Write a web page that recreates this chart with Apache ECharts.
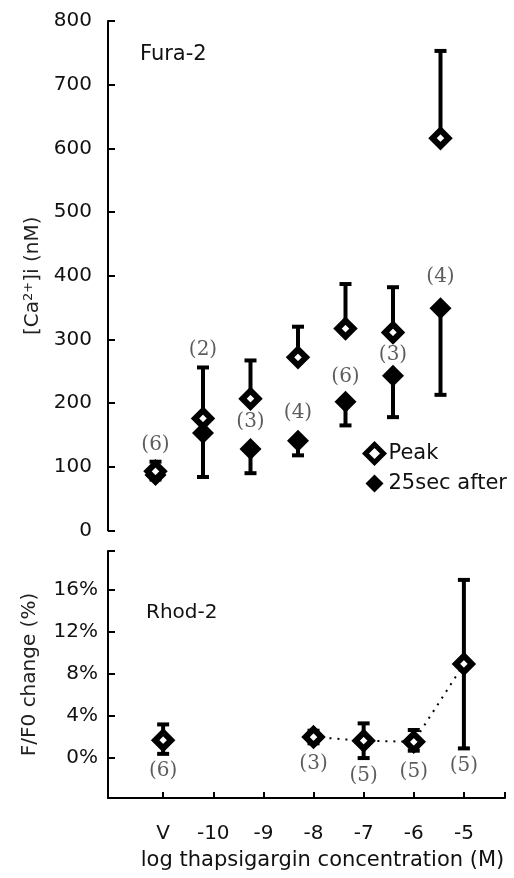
<!DOCTYPE html>
<html>
<head>
<meta charset="utf-8">
<script src="https://cdn.jsdelivr.net/npm/echarts@6/dist/echarts.min.js"></script>
<style>
  html, body { margin: 0; padding: 0; background: #fff; }
  #chart { width: 514px; height: 878px; }
</style>
</head>
<body>
<div id="chart"></div>
<script>
// categories on the x axis (positions 1..7)
const categories = ['V', '-10', '-9', '-8', '-7', '-6', '-5'];

// Fura-2 panel, [Ca2+]i in nM
const peak = [93, 176, 207, 272, 317, 311, 616];
const peakErrTop = [108, 256, 267, 320, 387, 382, 753];
const after = [87, 153, 128, 141, 202, 243, 349];
const afterErrBottom = [80, 84, 90, 118, 165, 178, 213];
const nTop = ['(6)', '(2)', '(3)', '(4)', '(6)', '(3)', '(4)'];
const nTopY = [134, 283, 170, 185, 241, 276, 398];

// Rhod-2 panel, F/F0 change in %
const rhod = [1.7, null, null, 2.0, 1.65, 1.55, 8.95];
const rhodErrTop = [3.2, null, null, 2.6, 3.3, 2.67, 16.95];
const rhodErrBottom = [0.4, null, null, 1.4, 0.0, 0.7, 0.92];
const nBottom = ['(6)', '', '', '(3)', '(5)', '(5)', '(5)'];
const nBottomY = [-1.2, null, null, -0.5, -1.7, -1.3, -0.7];

const yTicksBottom = [0, 4, 8, 12, 16];

const FONT = 'DejaVu Sans';
const xs = categories.map((c, i) => i + 1);

function errBar(params, api) {
  const x = api.value(0);
  const p1 = api.coord([x, api.value(1)]);
  const p2 = api.coord([x, api.value(2)]);
  const cap = 6;
  const st = { stroke: '#000', lineWidth: 4 };
  return {
    type: 'group',
    children: [
      { type: 'line', shape: { x1: p1[0], y1: p1[1], x2: p2[0], y2: p2[1] }, style: st },
      { type: 'line', shape: { x1: p2[0] - cap, y1: p2[1], x2: p2[0] + cap, y2: p2[1] }, style: st }
    ]
  };
}

function errData(vals, ends) {
  const out = [];
  vals.forEach((v, i) => {
    if (v != null && ends[i] != null) out.push([xs[i], v, ends[i]]);
  });
  return out;
}

function labelData(texts, ys) {
  const out = [];
  texts.forEach((t, i) => {
    if (t) out.push([xs[i], ys[i], t]);
  });
  return out;
}

const openStyle = { color: '#fff', borderColor: '#000', borderWidth: 6, opacity: 1 };
const filledStyle = { color: '#000', opacity: 1 };
const nLabel = {
  show: true, position: 'inside', formatter: p => p.value[2],
  fontFamily: 'DejaVu Serif', fontSize: 20, color: '#333'
};

const chart = echarts.init(document.getElementById('chart'));

chart.setOption({
  backgroundColor: '#fff',
  animation: false,
  textStyle: { fontFamily: FONT },
  grid: [
    { left: 108, top: 21, width: 380, height: 509.5 },
    { left: 108, top: 551, width: 397, height: 247 }
  ],
  legend: {
    orient: 'vertical',
    left: 363, top: 442,
    padding: 0,
    itemGap: 8,
    itemWidth: 18, itemHeight: 18,
    textStyle: { fontFamily: FONT, fontSize: 21, color: '#111' },
    data: [
      { name: 'Peak', itemStyle: { borderWidth: 5 } },
      { name: '25sec after' }
    ]
  },
  xAxis: [
    { gridIndex: 0, type: 'value', min: 0, max: 8, show: false },
    {
      gridIndex: 1, type: 'value', min: -0.1, max: 7.82,
      axisLine: { onZero: false, lineStyle: { color: '#000', width: 2 } },
      axisTick: { inside: true, length: 6, lineStyle: { color: '#000', width: 2 }, customValues: xs.concat([7.82]) },
      axisLabel: {
        customValues: xs, margin: 26, fontSize: 20, color: '#111',
        formatter: v => categories[Math.round(v) - 1] || ''
      },
      splitLine: { show: false },
      name: 'log thapsigargin concentration (M)',
      nameLocation: 'middle', nameGap: 52,
      nameTextStyle: { fontSize: 21, color: '#111', padding: [0, 0, 0, 32] }
    }
  ],
  yAxis: [
    {
      gridIndex: 0, type: 'value', min: 0, max: 800, interval: 100,
      axisLine: { show: true, onZero: false, lineStyle: { color: '#000', width: 2 } },
      axisTick: { show: true, inside: true, length: 7, lineStyle: { color: '#000', width: 2 } },
      axisLabel: { margin: 16, fontSize: 20, color: '#111' },
      splitLine: { show: false },
      name: '{t|[Ca}{s|2+}{t|]i (nM)}',
      nameLocation: 'middle', nameGap: 64,
      nameTextStyle: {
        color: '#222',
        rich: {
          t: { fontSize: 20, fontFamily: FONT, color: '#222' },
          s: { fontSize: 13, fontFamily: FONT, color: '#222', verticalAlign: 'top', padding: [0, 0, 8, 0] }
        }
      }
    },
    {
      gridIndex: 1, type: 'value', min: -3.8, max: 19.7,
      axisLine: { show: true, onZero: false, lineStyle: { color: '#000', width: 2 } },
      axisTick: { show: true, inside: true, length: 7, lineStyle: { color: '#000', width: 2 }, customValues: yTicksBottom.concat([19.7]) },
      axisLabel: { customValues: yTicksBottom, margin: 10, fontSize: 20, color: '#111', formatter: v => v + '%' },
      splitLine: { show: false },
      name: 'F/F0 change (%)',
      nameLocation: 'middle', nameGap: 68,
      nameTextStyle: { fontSize: 20, color: '#222' }
    }
  ],
  graphic: [
    { type: 'text', left: 140, top: 44, style: { text: 'Fura-2', fontFamily: FONT, fontSize: 21, fill: '#111' } },
    { type: 'text', left: 146, top: 603, style: { text: 'Rhod-2', fontFamily: FONT, fontSize: 20, fill: '#111' } }
  ],
  series: [
    // Fura-2 error bars
    { type: 'custom', xAxisIndex: 0, yAxisIndex: 0, renderItem: errBar, data: errData(peak, peakErrTop), z: 2, silent: true },
    { type: 'custom', xAxisIndex: 0, yAxisIndex: 0, renderItem: errBar, data: errData(after, afterErrBottom), z: 2, silent: true },
    {
      name: '25sec after', type: 'scatter', xAxisIndex: 0, yAxisIndex: 0,
      symbol: 'diamond', symbolSize: 22, itemStyle: filledStyle, z: 3,
      data: after.map((v, i) => [xs[i], v])
    },
    {
      name: 'Peak', type: 'scatter', xAxisIndex: 0, yAxisIndex: 0,
      symbol: 'diamond', symbolSize: 16, itemStyle: openStyle, z: 4,
      data: peak.map((v, i) => [xs[i], v])
    },
    {
      type: 'scatter', xAxisIndex: 0, yAxisIndex: 0, symbolSize: 0, silent: true,
      label: nLabel, data: labelData(nTop, nTopY)
    },
    // Rhod-2
    {
      type: 'line', xAxisIndex: 1, yAxisIndex: 1, showSymbol: false, connectNulls: false,
      lineStyle: { color: '#000', width: 2, type: [2, 6] }, z: 1, silent: true,
      data: rhod.map((v, i) => [xs[i], v])
    },
    { type: 'custom', xAxisIndex: 1, yAxisIndex: 1, renderItem: errBar, data: errData(rhod, rhodErrTop), z: 2, silent: true },
    { type: 'custom', xAxisIndex: 1, yAxisIndex: 1, renderItem: errBar, data: errData(rhod, rhodErrBottom), z: 2, silent: true },
    {
      type: 'scatter', xAxisIndex: 1, yAxisIndex: 1,
      symbol: 'diamond', symbolSize: 16, itemStyle: openStyle, z: 3,
      data: rhod.map((v, i) => (v == null ? null : [xs[i], v])).filter(d => d)
    },
    {
      type: 'scatter', xAxisIndex: 1, yAxisIndex: 1, symbolSize: 0, silent: true,
      label: nLabel, data: labelData(nBottom, nBottomY)
    }
  ]
});
</script>
</body>
</html>
